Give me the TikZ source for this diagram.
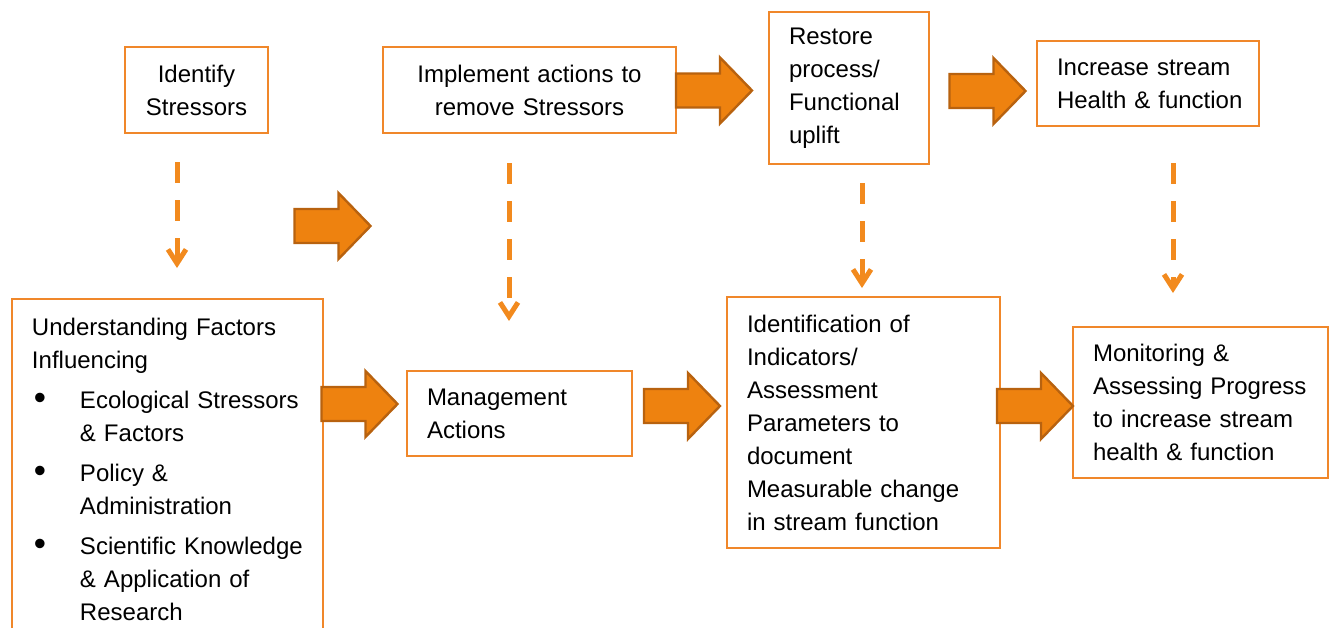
\documentclass[tikz,border=0pt]{standalone}
\usepackage{fontspec}
\setmainfont{Liberation Sans}
\usepackage{enumitem}
\usepackage{xcolor}
\usetikzlibrary{positioning}
\usetikzlibrary{arrows.meta}
\definecolor{boxorange}{HTML}{F0872A}
\definecolor{arroworange}{HTML}{EE820F}
\definecolor{arrowedge}{HTML}{B8620F}
\definecolor{dashorange}{HTML}{F28A1E}
\tikzset {
  x=0.5pt, y=-0.5pt,
  % plain step boxes
  box/.style={draw=boxorange, line width=1pt, inner xsep=10pt, inner ysep=0pt,
    align=left, font=\fontsize{12}{16.5}\selectfont},
  % fat block arrows between the steps
  fat/.style={fill=arroworange, draw=arrowedge, line width=1.2pt, line join=miter},
  bigarrow/.pic={\path[fat] (-38,-17) -- (6,-17) -- (6,-33) -- (38,0) -- (6,33)
    -- (6,17) -- (-38,17) -- cycle;},
  % dashed links going down
  dashlink/.style={dashorange, line width=2.5pt, dash pattern=on 10.5pt off 8.5pt,
    -{Straight Barb[length=7pt,width=9pt]}},
}

\begin{document}
\begin{tikzpicture}
        \useasboundingbox (0,0) rectangle (1334,627);
        \clip (0,0) rectangle (1334,627);

        % top row
        \node[box, align=center, text width=51.5pt, minimum height=43pt] (identify) at (196.5,90) {Identify\\Stressors};
        \node[box, align=center, text width=126.5pt, minimum height=43pt] (implement) at (529.5,90) {Implement actions to\\remove Stressors};
        \node[box, text width=60pt, minimum height=76pt] (restore) at (849,88) {Restore\\process/\\Functional\\uplift};
        \node[box, text width=91pt, minimum height=42.5pt] (increase) at (1148,83.5) {Increase stream\\\mbox{Health \& function}};

        % bottom row
        \node[box, anchor=north west, text width=135.5pt, inner ysep=9.5pt] (factors) at (11,298) {Understanding Factors\\Influencing
          \begin{itemize}[label=\raisebox{-0.5pt}{\scalebox{1.45}{\textbullet}}, leftmargin=24pt, labelwidth=12pt, labelsep=11pt, align=left,
            topsep=3.5pt, itemsep=3.5pt, parsep=0pt, partopsep=0pt]
          \item Ecological Stressors\\\& Factors
          \item Policy \&\\Administration
          \item \mbox{Scientific Knowledge}\\\& Application of\\Research
          \end{itemize}};
        \node[box, text width=92.5pt, minimum height=42.5pt] (manage) at (519.5,413.5) {Management\\Actions};
        \node[box, text width=116.5pt, minimum height=125.5pt] (indicators) at (863.5,422.5) {Identification of\\Indicators/\\Assessment\\Parameters to\\document\\Measurable change\\in stream function};
        \node[box, text width=107.5pt, minimum height=75.5pt] (monitor) at (1200.5,402.5) {Monitoring \&\\\mbox{Assessing Progress}\\to increase stream\\health \& function};

        % block arrows
        \pic (a1) at (332.5,226) {bigarrow};
        \pic (a2) at (714,90.5) {bigarrow};
        \pic (a3) at (987.5,91) {bigarrow};
        \pic (a4) at (359.5,404) {bigarrow};
        \pic (a5) at (682,406) {bigarrow};
        \pic (a6) at (1035,406) {bigarrow};

        % dashed links
        \coordinate (d1top) at (177,162);
        \coordinate (d1end) at (177,268);
        \coordinate (d2top) at (509,163);
        \coordinate (d2end) at (509,321);
        \coordinate (d3top) at (862,183);
        \coordinate (d3end) at (862,288);
        \coordinate (d4top) at (1173,163);
        \coordinate (d4end) at (1173,293);

        \draw [dashlink] (d1top) -- (d1end);
        \draw [dashlink] (d2top) -- (d2end);
        \draw [dashlink] (d3top) -- (d3end);
        \draw [dashlink] (d4top) -- (d4end);
      \end{tikzpicture}
\end{document}
